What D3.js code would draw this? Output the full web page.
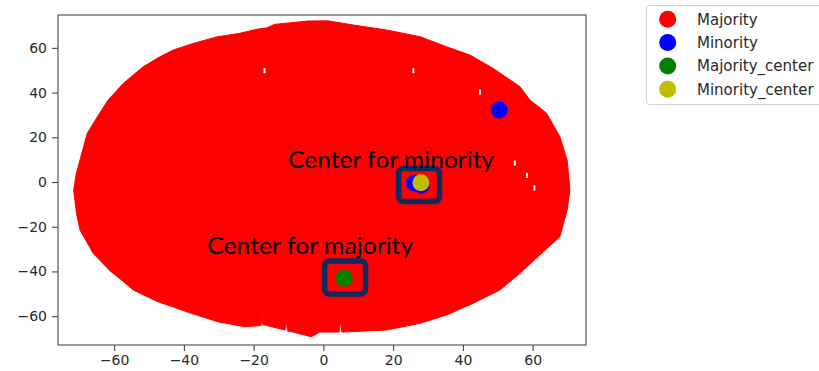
<!DOCTYPE html>
<html>
<head>
<meta charset="utf-8">
<script src="https://cdn.jsdelivr.net/npm/d3@7"></script>
<style>
  html, body { margin: 0; padding: 0; background: #fff; }
  svg { display: block; }
</style>
</head>
<body>
<svg id="chart" width="819" height="371"></svg>
<script>
// ---- axis setup ----
const xTicks = [-60, -40, -20, 0, 20, 40, 60];
const yTicks = [-60, -40, -20, 0, 20, 40, 60];
const xDomain = [-76.1, 75.3];
const yDomain = [-72.9, 74.7];

// ---- outer envelope of the (dense) majority samples, clockwise from the left ----
const majorityEnvelope = [
  [-71.6, -3.6], [-70.9, 3.5], [-69.8, 9.8], [-67.7, 21.8], [-64.5, 30.0],
  [-61.7, 36.7], [-57.4, 44.1], [-51.7, 51.5], [-46.9, 56.0], [-43.1, 59.0],
  [-37.3, 62.0], [-30.6, 64.9], [-24.0, 66.5], [-18.8, 68.4], [-16.3, 68.9],
  [-14.0, 70.5], [-4.5, 72.0], [1.3, 72.1], [8.6, 70.2], [18.1, 68.0],
  [27.7, 65.0], [35.3, 60.5], [42.0, 56.8], [48.7, 50.8], [56.4, 42.6],
  [59.2, 36.7], [64.0, 30.8], [67.8, 20.3], [69.9, 9.8], [70.7, -3.6],
  [69.9, -12.5], [67.8, -24.5], [62.7, -31.7], [56.4, -40.8], [50.6, -48.3],
  [43.0, -54.2], [35.3, -59.5], [27.7, -63.2], [18.1, -66.2], [8.6, -66.9],
  [5.3, -67.1], [4.9, -62.6], [4.5, -67.1], [-1.0, -67.1], [-3.5, -69.2],
  [-9.2, -66.9], [-10.3, -66.6], [-10.7, -61.4], [-11.0, -66.2], [-13.1, -65.4],
  [-16.9, -63.9], [-17.4, -63.9], [-17.6, -58.7], [-17.9, -64.2], [-22.6, -64.7],
  [-30.3, -62.5], [-37.9, -58.7], [-47.5, -53.5], [-54.5, -48.3], [-57.9, -43.8],
  [-61.2, -39.7], [-66.0, -31.9], [-69.8, -21.5], [-70.8, -14.0]
];

// small uncovered spots inside the majority cloud
const majorityGaps = [
  [-16.9, 49.8], [25.8, 49.8], [44.9, 40.2], [54.9, 8.5], [58.4, 2.9], [60.5, -2.7]
];

// minority samples
const minorityX = [50.4, 26.1, 28.1];
const minorityY = [32.2, -0.45, -1.3];

// class centers
const majorityCenter = [5.96, -43.05];
const minorityCenter = [27.96, -0.31];

// legend
const seriesNames = ["Majority", "Minority", "Majority_center", "Minority_center"];
const seriesColors = ["#ff0000", "#0000ff", "#008000", "#bfbf00"];

// callouts: label text, label anchor, highlighted center
const calloutLabels = ["Center for minority", "Center for majority"];
const calloutLabelPos = [[-10.1, 6.1], [-33.3, -32.2]];
const calloutBoxCenter = [[27.44, -1.34], [6.22, -42.69]];

// ---- drawing ----
const svg = d3.select("#chart");
const plot = { left: 58, top: 15, right: 586, bottom: 345 };
const markerR = 8.5;

const x = d3.scaleLinear().domain(xDomain).range([plot.left, plot.right]);
const y = d3.scaleLinear().domain(yDomain).range([plot.bottom, plot.top]);

// majority cloud
svg.append("path")
  .datum(majorityEnvelope)
  .attr("d", d3.line().x(d => x(d[0])).y(d => y(d[1])).curve(d3.curveLinearClosed))
  .attr("fill", seriesColors[0])
  .attr("stroke", seriesColors[0])
  .attr("stroke-width", 1)
  .attr("stroke-linejoin", "round");

svg.append("g").selectAll("rect")
  .data(majorityGaps)
  .join("rect")
  .attr("x", d => x(d[0]) - 1)
  .attr("y", d => y(d[1]) - 2.5)
  .attr("width", 2)
  .attr("height", 5)
  .attr("fill", "#fff");

// minority points
svg.append("g").selectAll("circle")
  .data(minorityX.map((v, i) => [v, minorityY[i]]))
  .join("circle")
  .attr("cx", d => x(d[0]))
  .attr("cy", d => y(d[1]))
  .attr("r", markerR)
  .attr("fill", seriesColors[1]);

// centers
svg.append("circle")
  .attr("cx", x(majorityCenter[0])).attr("cy", y(majorityCenter[1]))
  .attr("r", markerR).attr("fill", seriesColors[2]);
svg.append("circle")
  .attr("cx", x(minorityCenter[0])).attr("cy", y(minorityCenter[1]))
  .attr("r", markerR).attr("fill", seriesColors[3]);

// callout boxes and labels
const boxW = 41, boxH = 33;
svg.append("g").selectAll("rect")
  .data(calloutBoxCenter)
  .join("rect")
  .attr("x", d => x(d[0]) - boxW / 2)
  .attr("y", d => y(d[1]) - boxH / 2)
  .attr("width", boxW)
  .attr("height", boxH)
  .attr("rx", 5)
  .attr("fill", "none")
  .attr("stroke", "#0f2a5e")
  .attr("stroke-width", 5.5);

svg.append("g").selectAll("text")
  .data(calloutLabels)
  .join("text")
  .attr("x", (d, i) => x(calloutLabelPos[i][0]))
  .attr("y", (d, i) => y(calloutLabelPos[i][1]))
  .attr("font-family", "Lato, 'Open Sans', sans-serif")
  .attr("font-size", 23)
  .attr("textLength", 206)
  .attr("lengthAdjust", "spacingAndGlyphs")
  .attr("fill", "#000")
  .text(d => d);

// frame
svg.append("rect")
  .attr("x", plot.left).attr("y", plot.top)
  .attr("width", plot.right - plot.left).attr("height", plot.bottom - plot.top)
  .attr("fill", "none").attr("stroke", "#555").attr("stroke-width", 1.2);

// axes
const tickFont = "'DejaVu Sans', sans-serif";
const fmt = d => d < 0 ? "\u2212" + Math.abs(d) : String(d);

const xAxis = svg.append("g")
  .attr("transform", `translate(0,${plot.bottom})`)
  .call(d3.axisBottom(x).tickValues(xTicks).tickFormat(fmt).tickSize(6).tickPadding(4));
const yAxis = svg.append("g")
  .attr("transform", `translate(${plot.left},0)`)
  .call(d3.axisLeft(y).tickValues(yTicks).tickFormat(fmt).tickSize(6).tickPadding(5));

[xAxis, yAxis].forEach(a => {
  a.select(".domain").remove();
  a.selectAll(".tick line").attr("stroke", "#444").attr("stroke-width", 1.1);
  a.selectAll(".tick text")
    .attr("font-family", tickFont)
    .attr("font-size", 14)
    .attr("fill", "#2a2a2a");
});

// legend
const legend = svg.append("g");
legend.append("rect")
  .attr("x", 646.5).attr("y", 5.5)
  .attr("width", 190).attr("height", 99)
  .attr("rx", 3)
  .attr("fill", "#fff").attr("stroke", "#cfcfcf").attr("stroke-width", 1);

const rows = legend.selectAll("g.row")
  .data(seriesNames)
  .join("g")
  .attr("class", "row")
  .attr("transform", (d, i) => `translate(0,${19.3 + i * 23.3})`);
rows.append("circle")
  .attr("cx", 667.7).attr("cy", 0)
  .attr("r", markerR)
  .attr("fill", (d, i) => seriesColors[i]);
rows.append("text")
  .attr("x", 697).attr("y", 0)
  .attr("dy", "0.36em")
  .attr("font-family", tickFont)
  .attr("font-size", 15)
  .attr("fill", "#2a2a2a")
  .text(d => d);
</script>
</body>
</html>
